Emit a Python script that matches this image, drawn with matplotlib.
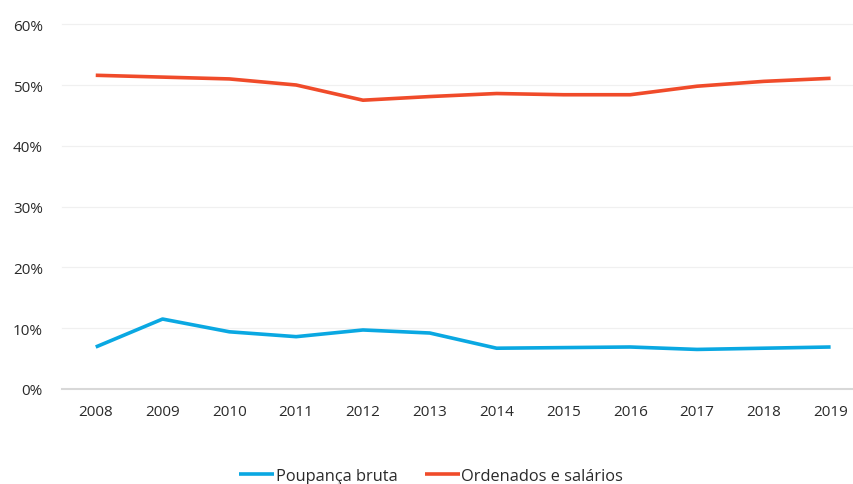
import matplotlib.pyplot as plt

plt.rcParams['font.family'] = ['Open Sans', 'DejaVu Sans']

# Data
anos = ['2008', '2009', '2010', '2011', '2012', '2013',
        '2014', '2015', '2016', '2017', '2018', '2019']
poupanca = [6.9, 11.5, 9.4, 8.6, 9.7, 9.2, 6.7, 6.8, 6.9, 6.5, 6.7, 6.9]
ordenados = [51.6, 51.3, 51.0, 50.0, 47.5, 48.1, 48.6, 48.4, 48.4, 49.8, 50.6, 51.1]
y_ticks = [0, 10, 20, 30, 40, 50, 60]

fig = plt.figure(figsize=(8.54, 4.85), dpi=100)
ax = fig.add_axes([0.073, 0.196, 0.927, 0.752])

x = list(range(len(anos)))
ax.plot(x, poupanca, color='#0aa8e2', lw=2.6, label='Poupança bruta', solid_capstyle='butt')
ax.plot(x, ordenados, color='#f04b2a', lw=2.6, label='Ordenados e salários', solid_capstyle='butt')

ax.set_xlim(-0.5, 11.35)
ax.set_ylim(0, 60)
ax.set_xticks(x)
ax.set_xticklabels(anos)
ax.set_yticks(y_ticks)
ax.set_yticklabels([f'{v}%' for v in y_ticks])

# gridlines
for v in y_ticks:
    ax.axhline(v, color='#d8d8d8' if v == 0 else '#f0f0f0', lw=1.5 if v == 0 else 0.9,
               zorder=0, clip_on=False)

for s in ax.spines.values():
    s.set_visible(False)
ax.tick_params(length=0, labelsize=11, labelcolor='#2a2a2a')
ax.tick_params(axis='x', pad=11)
ax.tick_params(axis='y', pad=14)

fig.legend(loc='lower center', bbox_to_anchor=(0.505, -0.03), ncol=2, frameon=False,
           fontsize=11.8, handlelength=2.1, handletextpad=0.1, columnspacing=1.7,
           labelcolor='#2a2a2a')

fig.savefig('out.png', dpi=100)
